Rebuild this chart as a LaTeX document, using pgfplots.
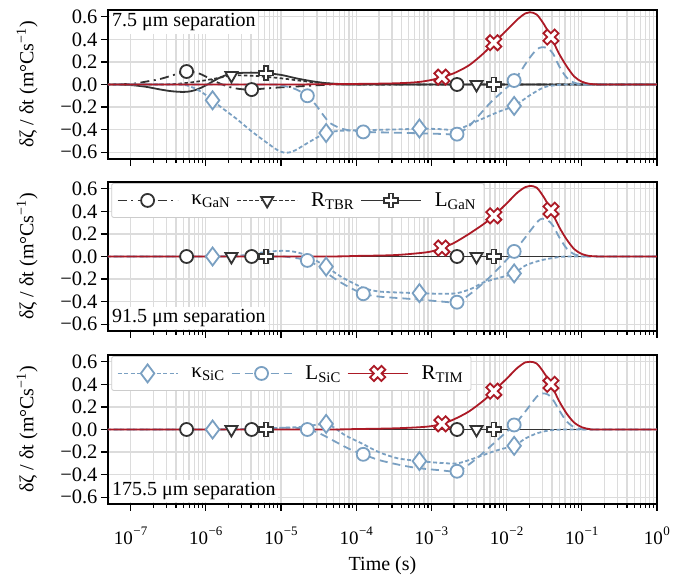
\documentclass[border=0pt]{standalone}
\usepackage{fontspec}
\setmainfont{Liberation Serif}
\usepackage{pgfplots}
\pgfplotsset{compat=1.18}

\definecolor{gan}{RGB}{51,51,51}
\definecolor{sic}{RGB}{122,160,194}
\definecolor{tim}{RGB}{172,26,38}
\definecolor{gridc}{RGB}{220,220,220}

% bold plus and cross outlines (filled white by the mark options)
\makeatletter
\pgfdeclareplotmark{fatplus}{%
  \pgfmathsetlengthmacro\fp@r{\pgfplotmarksize}%
  \pgfmathsetlengthmacro\fp@a{0.34*\pgfplotmarksize}%
  \pgfpathmoveto{\pgfqpoint{\fp@a}{\fp@r}}%
  \pgfpathlineto{\pgfqpoint{\fp@a}{\fp@a}}%
  \pgfpathlineto{\pgfqpoint{\fp@r}{\fp@a}}%
  \pgfpathlineto{\pgfqpoint{\fp@r}{-\fp@a}}%
  \pgfpathlineto{\pgfqpoint{\fp@a}{-\fp@a}}%
  \pgfpathlineto{\pgfqpoint{\fp@a}{-\fp@r}}%
  \pgfpathlineto{\pgfqpoint{-\fp@a}{-\fp@r}}%
  \pgfpathlineto{\pgfqpoint{-\fp@a}{-\fp@a}}%
  \pgfpathlineto{\pgfqpoint{-\fp@r}{-\fp@a}}%
  \pgfpathlineto{\pgfqpoint{-\fp@r}{\fp@a}}%
  \pgfpathlineto{\pgfqpoint{-\fp@a}{\fp@a}}%
  \pgfpathlineto{\pgfqpoint{-\fp@a}{\fp@r}}%
  \pgfpathclose
  \pgfusepathqfillstroke}
\pgfdeclareplotmark{fatcross}{%
  \pgftransformrotate{45}%
  \pgfuseplotmark{fatplus}}
\makeatother

% power-of-ten tick label: 10 with a small raised exponent
\newcommand{\tenpow}[1]{10\hspace{0.5bp}\raisebox{9bp}{\fontsize{13bp}{13bp}\selectfont #1}}

\tikzset{seplabel/.style={fill=white, inner sep=2.5bp, font=\fontsize{20bp}{24bp}\selectfont}}

\pgfplotsset{
  legend image code/.code={%
    \pgfpathrectangle{\pgfqpoint{0bp}{-15bp}}{\pgfqpoint{60bp}{30bp}}%
    \pgfusepath{}%
    \draw[mark repeat=2, mark phase=2, #1] plot coordinates {(0bp,0bp) (30bp,0bp) (60bp,0bp)};},
  stackpanel/.style={
    scale only axis, width=549bp, height=149bp,
    xmin=5e-8, xmax=1,
    ymin=-0.66, ymax=0.66,
    xtick={1e-7,1e-6,1e-5,1e-4,1e-3,1e-2,1e-1,1},
    ytick={-0.6,-0.4,-0.2,0,0.2,0.4,0.6},
    yticklabels={−0.6,−0.4,−0.2,0.0,0.2,0.4,0.6},
    grid=both,
    major grid style={draw=gridc, line width=1.3bp},
    minor grid style={draw=gridc, line width=1.3bp},
    axis line style={line width=1.6bp},
    tick align=outside, tick pos=left,
    major tick length=7bp, minor tick length=4bp,
    tick style={black, line width=1.2bp},
    yticklabel style={font=\fontsize{20.5bp}{24bp}\selectfont},
    xticklabel style={font=\fontsize{19bp}{22bp}\selectfont, yshift=-12bp},
    label style={font=\fontsize{20bp}{24bp}\selectfont},
    ylabel={δζ / δt (m°Cs\textsuperscript{−1})},
    ylabel style={at={(axis description cs:-0.1475,0.5)}, anchor=center},
    legend columns=3,
    legend cell align=left,
    legend style={draw=black!20, line width=0.8bp, rounded corners=2bp, fill=white,
      inner xsep=5bp, inner ysep=2bp,
      font=\fontsize{21bp}{24bp}\selectfont,
      nodes={inner xsep=3bp, inner ysep=2bp},
      /tikz/every odd column/.append style={column sep=10bp},
      /tikz/every even column/.append style={column sep=3bp},
      at={(axis description cs:0.006,0.993)}, anchor=north west},
  },
  l kgan/.style={gan, line width=1.8bp, dash pattern=on 9bp off 4.5bp on 2bp off 4.5bp},
  l rtbr/.style={gan, line width=1.7bp, dash pattern=on 3.5bp off 2.5bp},
  l lgan/.style={gan, line width=1.8bp},
  l ksic/.style={sic, line width=1.8bp, dash pattern=on 4bp off 2.5bp},
  l lsic/.style={sic, line width=1.8bp, dash pattern=on 8bp off 5bp},
  l rtim/.style={tim, line width=1.8bp},
  m kgan/.style={mark=*, mark size=6.5bp, mark options={solid, fill=white, draw=gan, line width=1.8bp}},
  m rtbr/.style={mark=triangle*, mark size=7bp, mark options={solid, rotate=180, fill=white, draw=gan, line width=1.8bp}},
  m lgan/.style={mark=fatplus, mark size=7bp, mark options={solid, fill=white, draw=gan, line width=1.8bp}},
  m ksic/.style={mark=diamond*, mark size=9bp, mark options={solid, fill=white, draw=sic, line width=1.8bp}},
  m lsic/.style={mark=*, mark size=6.5bp, mark options={solid, fill=white, draw=sic, line width=1.8bp}},
  m rtim/.style={mark=fatcross, mark size=8bp, mark options={solid, fill=white, draw=tim, line width=1.8bp}},
}

\begin{document}
\begin{tikzpicture}
\useasboundingbox (0,0) rectangle (693bp,580bp);

% ---------- 7.5 um separation ----------
\begin{semilogxaxis}[stackpanel, at={(108bp,570bp)}, anchor=north west, xticklabels={}]
\addplot[l kgan, smooth] coordinates {(3.98e-8,0) (1e-7,0.005) (1.585e-7,0.025) (2.512e-7,0.05) (3.981e-7,0.09) (5.55e-7,0.115) (7.943e-7,0.1) (1e-6,0.07) (1.259e-6,0.035) (1.585e-6,0.005) (1.995e-6,-0.02) (2.512e-6,-0.035) (3.162e-6,-0.043) (4.07e-6,-0.045) (6.31e-6,-0.035) (1e-5,-0.025) (1.585e-5,-0.018) (2.512e-5,-0.01) (3.98e-5,-0.003) (6.31e-5,0) (2.19e-3,0) (1,0)};
\addplot[l rtbr, smooth] coordinates {(3.98e-8,0) (2.512e-7,0) (3.981e-7,0.005) (6.31e-7,0.018) (1e-6,0.038) (1.585e-6,0.062) (2.19e-6,0.08) (3.162e-6,0.08) (5.012e-6,0.074) (1e-5,0.055) (1.585e-5,0.038) (2.512e-5,0.022) (3.98e-5,0.01) (6.31e-5,0.003) (1e-4,0) (3.98e-3,0) (1,0)};
\addplot[l lgan, smooth] coordinates {(3.98e-8,0) (6.31e-8,0) (1e-7,-0.005) (1.585e-7,-0.02) (2.512e-7,-0.045) (3.548e-7,-0.06) (5.012e-7,-0.066) (6.31e-7,-0.06) (7.943e-7,-0.04) (1e-6,-0.008) (1.259e-6,0.03) (1.585e-6,0.065) (1.995e-6,0.09) (2.512e-6,0.1) (3.981e-6,0.105) (6.31e-6,0.1) (1e-5,0.085) (1.585e-5,0.055) (2.512e-5,0.03) (3.98e-5,0.012) (6.31e-5,0.004) (1e-4,0) (6.76e-3,0) (1,0)};
\addplot[l ksic, smooth] coordinates {(3.98e-8,0) (3.981e-7,0) (6.31e-7,-0.02) (8.913e-7,-0.07) (1.23e-6,-0.14) (1.585e-6,-0.2) (2.512e-6,-0.3) (3.981e-6,-0.41) (6.31e-6,-0.51) (8.913e-6,-0.58) (1.122e-5,-0.605) (1.413e-5,-0.595) (1.778e-5,-0.56) (2.512e-5,-0.5) (3.98e-5,-0.43) (6.31e-5,-0.41) (1.24e-4,-0.405) (2.512e-4,-0.40) (5.012e-4,-0.395) (6.92e-4,-0.39) (1.259e-3,-0.395) (2.19e-3,-0.40) (3.548e-3,-0.34) (4.898e-3,-0.30) (7.943e-3,-0.24) (1.26e-2,-0.19) (1.995e-2,-0.10) (2.818e-2,-0.04) (3.548e-2,-0.015) (5.012e-2,-0.004) (7.079e-2,0) (1,0)};
\addplot[l lsic, smooth] coordinates {(3.98e-8,0) (6.31e-6,0) (1e-5,-0.01) (1.413e-5,-0.03) (1.778e-5,-0.06) (2.24e-5,-0.10) (2.818e-5,-0.17) (3.548e-5,-0.26) (4.467e-5,-0.34) (6.31e-5,-0.39) (8.913e-5,-0.41) (1.24e-4,-0.42) (2.512e-4,-0.425) (5.012e-4,-0.43) (1e-3,-0.435) (1.585e-3,-0.44) (2.19e-3,-0.44) (3.162e-3,-0.37) (4.467e-3,-0.26) (6.31e-3,-0.15) (8.913e-3,-0.06) (1.26e-2,0.035) (1.585e-2,0.13) (1.995e-2,0.23) (2.512e-2,0.31) (2.95e-2,0.33) (3.548e-2,0.32) (4.169e-2,0.27) (5.012e-2,0.16) (6.31e-2,0.06) (7.943e-2,0.015) (0.1,0.003) (0.1259,0) (1,0)};
\addplot[l rtim, smooth] coordinates {(3.98e-8,0) (1e-5,0) (3.162e-5,0.002) (1e-4,0.005) (3.162e-4,0.01) (6.31e-4,0.02) (1e-3,0.04) (1.38e-3,0.065) (1.995e-3,0.1) (3.162e-3,0.17) (5.012e-3,0.28) (6.76e-3,0.37) (1e-2,0.48) (1.413e-2,0.58) (1.778e-2,0.63) (2.04e-2,0.64) (2.512e-2,0.62) (3.162e-2,0.53) (3.89e-2,0.42) (5.012e-2,0.27) (6.31e-2,0.16) (7.943e-2,0.07) (0.1,0.025) (0.1259,0.006) (0.1585,0.001) (0.1995,0) (1,0)};
% markers
\addplot[only marks, m kgan] coordinates {(5.55e-7,0.115) (4.07e-6,-0.045) (2.19e-3,0)};
\addplot[only marks, m rtbr] coordinates {(2.19e-6,0.08) (3.98e-3,0)};
\addplot[only marks, m lgan] coordinates {(6.31e-6,0.1) (6.76e-3,0)};
\addplot[only marks, m ksic] coordinates {(1.23e-6,-0.14) (3.98e-5,-0.43) (6.92e-4,-0.39) (1.26e-2,-0.19)};
\addplot[only marks, m lsic] coordinates {(2.24e-5,-0.10) (1.24e-4,-0.42) (2.19e-3,-0.44) (1.26e-2,0.035)};
\addplot[only marks, m rtim] coordinates {(1.38e-3,0.065) (6.76e-3,0.37) (3.89e-2,0.42)};
\node[seplabel, anchor=north west, xshift=1.5bp, yshift=-1bp] at (rel axis cs:0,1) {7.5 μm separation};
\end{semilogxaxis}

% ---------- 91.5 um separation ----------
\begin{semilogxaxis}[stackpanel, at={(108bp,398bp)}, anchor=north west, xticklabels={}]
\addlegendimage{l kgan, m kgan}
\addlegendentry{κ\textsubscript{GaN}}
\addlegendimage{l rtbr, m rtbr}
\addlegendentry{R\textsubscript{TBR}}
\addlegendimage{l lgan, m lgan}
\addlegendentry{L\textsubscript{GaN}}
\addplot[l kgan] coordinates {(3.98e-8,0) (1,0)};
\addplot[l rtbr] coordinates {(3.98e-8,0) (1,0)};
\addplot[l lgan] coordinates {(3.98e-8,0) (1,0)};
\addplot[l ksic, smooth] coordinates {(3.98e-8,0) (1e-6,0) (1.23e-6,0) (2.512e-6,0.005) (3.981e-6,0.02) (6.31e-6,0.04) (1e-5,0.05) (1.413e-5,0.045) (1.995e-5,0.02) (2.818e-5,-0.03) (3.98e-5,-0.09) (6.31e-5,-0.18) (1e-4,-0.25) (1.24e-4,-0.28) (1.995e-4,-0.31) (3.981e-4,-0.32) (6.92e-4,-0.325) (1.259e-3,-0.33) (2.19e-3,-0.325) (3.548e-3,-0.28) (4.898e-3,-0.23) (8.913e-3,-0.18) (1.26e-2,-0.15) (1.778e-2,-0.08) (2.818e-2,-0.035) (4.467e-2,-0.01) (7.079e-2,0) (1,0)};
\addplot[l lsic, smooth] coordinates {(3.98e-8,0) (6.31e-6,0) (1.259e-5,-0.005) (2.24e-5,-0.035) (3.162e-5,-0.09) (5.012e-5,-0.19) (7.943e-5,-0.27) (1.24e-4,-0.33) (1.995e-4,-0.355) (3.981e-4,-0.37) (7.943e-4,-0.385) (1.413e-3,-0.40) (2.19e-3,-0.405) (3.162e-3,-0.34) (5.012e-3,-0.23) (7.943e-3,-0.10) (1.26e-2,0.045) (1.778e-2,0.17) (2.512e-2,0.30) (2.95e-2,0.335) (3.548e-2,0.32) (4.169e-2,0.27) (5.012e-2,0.17) (6.31e-2,0.07) (7.943e-2,0.02) (0.1,0.004) (0.1259,0) (1,0)};
\addplot[l rtim, smooth] coordinates {(3.98e-8,0) (3.162e-5,0) (1e-4,0.005) (3.162e-4,0.012) (6.92e-4,0.03) (1e-3,0.045) (1.38e-3,0.075) (1.995e-3,0.12) (3.162e-3,0.2) (5.012e-3,0.29) (6.76e-3,0.36) (1e-2,0.47) (1.413e-2,0.57) (1.778e-2,0.615) (2.04e-2,0.625) (2.512e-2,0.61) (3.162e-2,0.52) (3.89e-2,0.41) (5.012e-2,0.26) (6.31e-2,0.15) (7.943e-2,0.065) (0.1,0.022) (0.1259,0.005) (0.1585,0.001) (0.1995,0) (1,0)};
\addplot[only marks, m kgan] coordinates {(5.55e-7,0) (4.07e-6,0) (2.19e-3,0)};
\addplot[only marks, m rtbr] coordinates {(2.19e-6,0) (3.98e-3,0)};
\addplot[only marks, m lgan] coordinates {(6.31e-6,0) (6.76e-3,0)};
\addplot[only marks, m ksic] coordinates {(1.23e-6,0) (3.98e-5,-0.09) (6.92e-4,-0.325) (1.26e-2,-0.15)};
\addplot[only marks, m lsic] coordinates {(2.24e-5,-0.035) (1.24e-4,-0.33) (2.19e-3,-0.405) (1.26e-2,0.045)};
\addplot[only marks, m rtim] coordinates {(1.38e-3,0.075) (6.76e-3,0.36) (3.89e-2,0.41)};
\node[seplabel, anchor=south west, xshift=1.5bp, yshift=1.5bp] at (rel axis cs:0,0) {91.5 μm separation};
\end{semilogxaxis}

% ---------- 175.5 um separation ----------
\begin{semilogxaxis}[stackpanel, at={(108bp,225bp)}, anchor=north west,
  xticklabels={{\tenpow{−7}},{\tenpow{−6}},{\tenpow{−5}},{\tenpow{−4}},{\tenpow{−3}},{\tenpow{−2}},{\tenpow{−1}},{\tenpow{0}}},
  xlabel={Time (s)},
  xlabel style={at={(axis description cs:0.5,-0.415)}, anchor=center}]
\addlegendimage{l ksic, m ksic}
\addlegendentry{κ\textsubscript{SiC}}
\addlegendimage{l lsic, m lsic}
\addlegendentry{L\textsubscript{SiC}}
\addlegendimage{l rtim, m rtim}
\addlegendentry{R\textsubscript{TIM}}
\addplot[l kgan] coordinates {(3.98e-8,0) (1,0)};
\addplot[l rtbr] coordinates {(3.98e-8,0) (1,0)};
\addplot[l lgan] coordinates {(3.98e-8,0) (1,0)};
\addplot[l ksic, smooth] coordinates {(3.98e-8,0) (1e-6,0) (1.23e-6,0) (3.981e-6,0.005) (1e-5,0.015) (1.585e-5,0.02) (2.24e-5,0.03) (3.162e-5,0.045) (3.98e-5,0.05) (5.012e-5,0.02) (7.079e-5,-0.05) (1e-4,-0.1) (1.24e-4,-0.13) (1.995e-4,-0.2) (3.548e-4,-0.255) (6.92e-4,-0.28) (1.259e-3,-0.295) (2.19e-3,-0.30) (3.548e-3,-0.26) (6.31e-3,-0.2) (8.913e-3,-0.17) (1.26e-2,-0.145) (1.778e-2,-0.08) (2.512e-2,-0.035) (3.548e-2,-0.01) (5.012e-2,-0.002) (7.079e-2,0) (1,0)};
\addplot[l lsic, smooth] coordinates {(3.98e-8,0) (3.162e-6,0) (6.31e-6,0.005) (1e-5,0.015) (1.585e-5,0.015) (2.24e-5,0) (3.162e-5,-0.03) (5.012e-5,-0.1) (7.943e-5,-0.17) (1.24e-4,-0.22) (1.995e-4,-0.27) (3.548e-4,-0.31) (6.31e-4,-0.34) (1.259e-3,-0.36) (2.19e-3,-0.37) (3.162e-3,-0.31) (5.012e-3,-0.2) (7.943e-3,-0.08) (1.26e-2,0.04) (1.778e-2,0.16) (2.512e-2,0.29) (2.95e-2,0.32) (3.548e-2,0.31) (4.169e-2,0.26) (5.012e-2,0.17) (6.31e-2,0.07) (7.943e-2,0.02) (0.1,0.004) (0.1259,0) (1,0)};
\addplot[l rtim, smooth] coordinates {(3.98e-8,0) (3.162e-5,0) (1e-4,0.004) (3.162e-4,0.01) (6.92e-4,0.02) (1e-3,0.03) (1.38e-3,0.05) (1.995e-3,0.09) (3.162e-3,0.16) (5.012e-3,0.26) (6.76e-3,0.34) (1e-2,0.45) (1.413e-2,0.55) (1.778e-2,0.595) (2.04e-2,0.60) (2.512e-2,0.585) (3.162e-2,0.5) (3.89e-2,0.40) (5.012e-2,0.25) (6.31e-2,0.14) (7.943e-2,0.06) (0.1,0.02) (0.1259,0.004) (0.1585,0) (1,0)};
\addplot[only marks, m kgan] coordinates {(5.55e-7,0) (4.07e-6,0) (2.19e-3,0)};
\addplot[only marks, m rtbr] coordinates {(2.19e-6,0) (3.98e-3,0)};
\addplot[only marks, m lgan] coordinates {(6.31e-6,0) (6.76e-3,0)};
\addplot[only marks, m ksic] coordinates {(1.23e-6,0) (3.98e-5,0.05) (6.92e-4,-0.28) (1.26e-2,-0.145)};
\addplot[only marks, m lsic] coordinates {(2.24e-5,0) (1.24e-4,-0.22) (2.19e-3,-0.37) (1.26e-2,0.04)};
\addplot[only marks, m rtim] coordinates {(1.38e-3,0.05) (6.76e-3,0.34) (3.89e-2,0.40)};
\node[seplabel, anchor=south west, xshift=1.5bp, yshift=1.5bp] at (rel axis cs:0,0) {175.5 μm separation};
\end{semilogxaxis}
\end{tikzpicture}
\end{document}
